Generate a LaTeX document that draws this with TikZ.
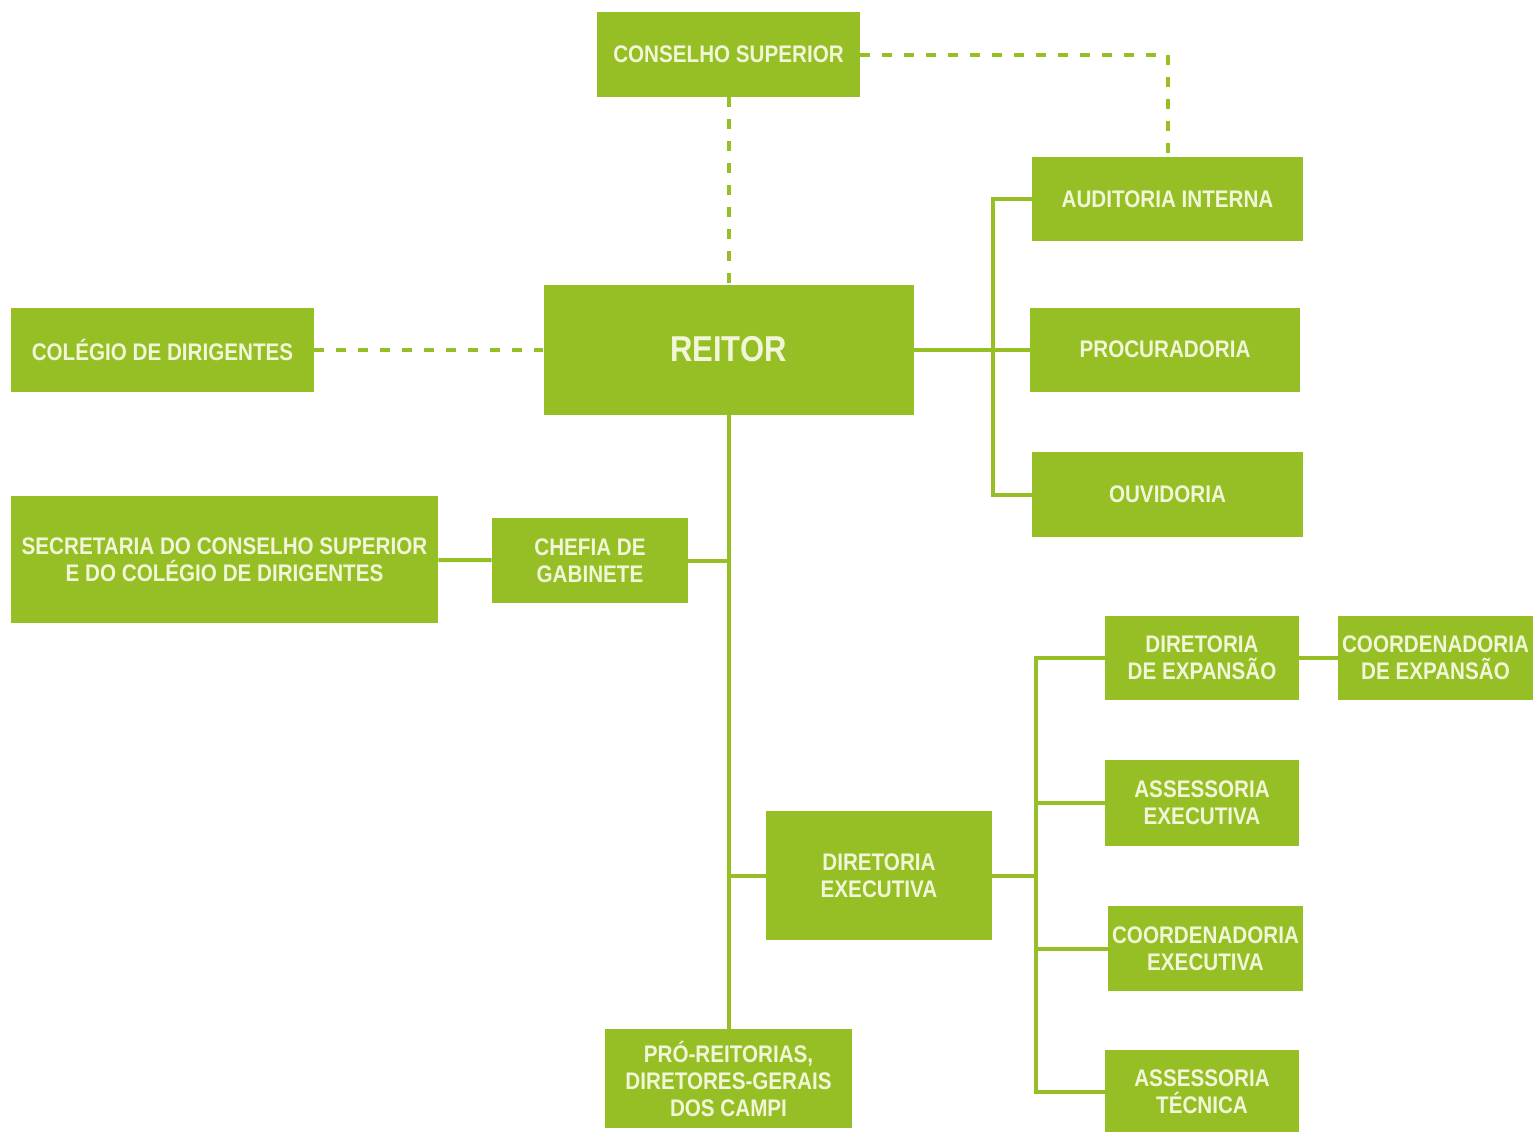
\documentclass[tikz,border=0pt]{standalone}
\usepackage{fontspec}
\setmainfont{Liberation Sans}[FakeStretch=0.86]
\usetikzlibrary{positioning}
\definecolor{orggreen}{HTML}{95BF24}
\definecolor{orgtext}{HTML}{F2F6D8}

\begin{document}
\begin{tikzpicture}[x=0.5pt, y=-0.5pt,
	box/.style={fill=orggreen, text=orgtext, align=center, inner sep=0pt,
		font=\fontsize{12}{13.5}\selectfont\bfseries},
	link/.style={draw=orggreen, line width=2pt},
	dlink/.style={draw=orggreen, line width=2pt, dash pattern=on 5pt off 6pt}]
	\useasboundingbox (0, 0) rectangle (1533, 1131);
	\node[box, minimum width=131.5pt, minimum height=42.5pt] (cons) at (728.5, 54.5) {CONSELHO SUPERIOR};
	\node[box, minimum width=135.5pt, minimum height=42pt] (audit) at (1167.5, 199) {AUDITORIA INTERNA};
	\node[box, minimum width=185pt, minimum height=65pt, font=\fontsize{18}{20}\selectfont\bfseries] (reitor) at (728.5, 349.5) {REITOR};
	\node[box, minimum width=151.5pt, minimum height=42pt] (colegio) at (162.5, 349.5) {COLÉGIO DE DIRIGENTES};
	\node[box, minimum width=135pt, minimum height=42pt] (procur) at (1165, 349.5) {PROCURADORIA};
	\node[box, minimum width=135.5pt, minimum height=42.5pt] (ouvid) at (1167.5, 494.5) {OUVIDORIA};
	\node[box, minimum width=213.5pt, minimum height=63.5pt] (secret) at (224.5, 559.5) {SECRETARIA DO CONSELHO SUPERIOR\\E DO COLÉGIO DE DIRIGENTES};
	\node[box, minimum width=98pt, minimum height=42.5pt] (chefia) at (590, 560.5) {CHEFIA DE\\GABINETE};
	\node[box, minimum width=97pt, minimum height=42pt] (direxp) at (1202, 658) {DIRETORIA\\DE EXPANSÃO};
	\node[box, minimum width=97.5pt, minimum height=42pt] (coordexp) at (1435.5, 658) {COORDENADORIA\\DE EXPANSÃO};
	\node[box, minimum width=97pt, minimum height=43pt] (assexec) at (1202, 803) {ASSESSORIA\\EXECUTIVA};
	\node[box, minimum width=113pt, minimum height=64.5pt] (direxec) at (879, 875.5) {DIRETORIA\\EXECUTIVA};
	\node[box, minimum width=97.5pt, minimum height=42.5pt] (coordexec) at (1205.5, 948.5) {COORDENADORIA\\EXECUTIVA};
	\node[box, minimum width=97pt, minimum height=42pt] (asstec) at (1202, 1092) {ASSESSORIA\\TÉCNICA};
	\node[box, minimum width=123.5pt, minimum height=49.5pt] (pro) at (728.5, 1078.5) {PRÓ-REITORIAS,\\DIRETORES-GERAIS\\DOS CAMPI};
	% dashed links
	\draw[dlink] (cons) -- (reitor);
	\draw[dlink] (cons.east) -| (audit.north);
	\draw[dlink] (colegio) -- (reitor);
	% rector staff
	\coordinate (busr) at (993, 349.5);
	\draw[link] (reitor) -- (procur);
	\draw[link] (audit.west) -| (busr) |- (ouvid.west);
	\draw[link] (reitor) -- (pro);
	\draw[link] (secret) -- (chefia);
	\draw[link] (chefia.east) -- (chefia.east -| reitor);
	\draw[link] (direxec.west) -- (direxec.west -| reitor);
	% executive board
	\coordinate (buse) at (1036, 875.5);
	\draw[link] (direxec) -- (buse);
	\draw[link] (direxp.west) -| (buse) |- (asstec.west);
	\draw[link] (assexec.west) -- (assexec.west -| buse);
	\draw[link] (coordexec.west) -- (coordexec.west -| buse);
	\draw[link] (direxp) -- (coordexp);
\end{tikzpicture}
\end{document}
